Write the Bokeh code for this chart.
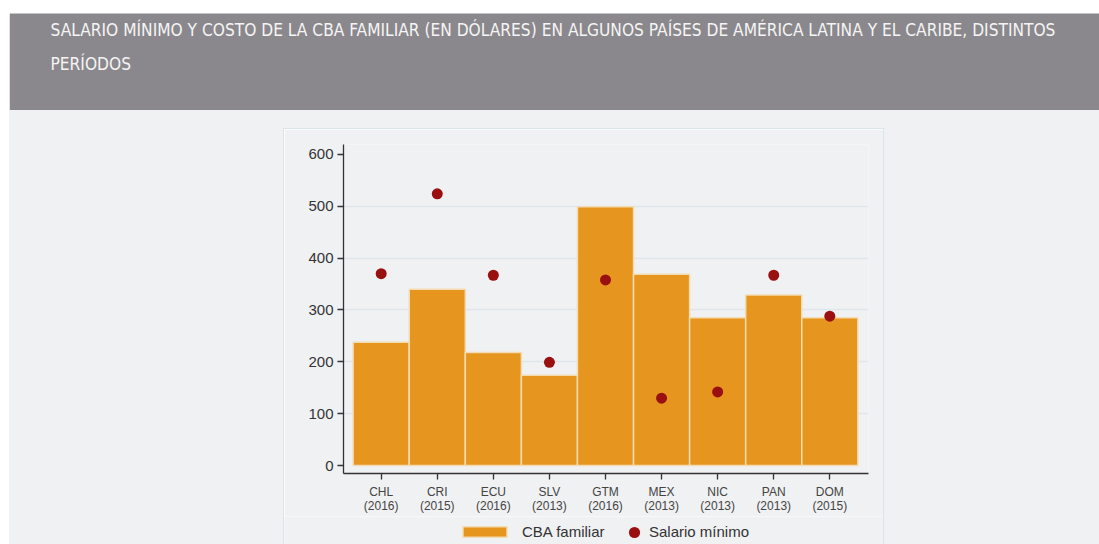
from bokeh.plotting import figure
from bokeh.layouts import column, row
from bokeh.models import (Range1d, FixedTicker, Label, Legend, LegendItem, ColumnDataSource,
                          Spacer)
from bokeh.embed import file_html
from bokeh.resources import INLINE

# ---- data ----
countries = ["CHL", "CRI", "ECU", "SLV", "GTM", "MEX", "NIC", "PAN", "DOM"]
years = ["2016", "2015", "2016", "2013", "2016", "2013", "2013", "2013", "2015"]
cba_familiar = [238, 340, 218, 174, 499, 369, 285, 329, 285]
salario_minimo = [370, 524, 367, 199, 358, 130, 142, 367, 288]
y_ticks = [0, 100, 200, 300, 400, 500, 600]
title_line1 = "SALARIO MÍNIMO Y COSTO DE LA CBA FAMILIAR (EN DÓLARES) EN ALGUNOS PAÍSES DE AMÉRICA LATINA Y EL CARIBE, DISTINTOS"
title_line2 = "PERÍODOS"
legend_labels = ["CBA familiar", "Salario mínimo"]

BG = "#f0f1f3"
PANEL_LINE = "#dbe4e7"
BAR = "#e6951f"
BAR_LINE = "#f4dcb2"
DOT = "#9a1010"
font = "Liberation Sans"


def block(w, h, color):
    return Spacer(width=w, height=h, styles={"background-color": color})


def bare(width, height, bg):
    return figure(width=width, height=height, output_backend="svg", toolbar_location=None,
                  x_axis_type=None, y_axis_type=None, min_border=0, frame_align=False,
                  x_range=Range1d(0, width), y_range=Range1d(height, 0),
                  outline_line_color=None, border_fill_color=bg, background_fill_color=bg)


idx = list(range(len(countries)))
src = ColumnDataSource(dict(x=idx, cba=cba_familiar, sal=salario_minimo))

# ---- header (page x 9..1099, y 0..110) ----
HW, HH = 1090, 110
hdr = bare(HW, HH, "white")
hdr.quad(left=[0], right=[HW], top=[13], bottom=[HH], fill_color="#8a888c", line_color=None)
hdr_font = "'Liberation Sans Narrow', 'DejaVu Sans Condensed', sans-serif"
for txt, yy in [(title_line1, 29), (title_line2, 63)]:
    hdr.add_layout(Label(x=41, y=yy, text=txt, text_baseline="middle", text_align="left",
                         text_color="#f5f5f5", text_font=hdr_font, text_font_size="17.2px"))

# ---- chart (page x 284..883, y 129..516) ----
PW = 599
CH = 387
p = figure(width=PW, height=CH, output_backend="svg", toolbar_location=None,
           x_range=Range1d(-0.672, 8.69), y_range=Range1d(-15.38, 619.23),
           min_border_left=59, min_border_right=15, min_border_top=15,
           min_border_bottom=42, background_fill_color=BG, border_fill_color=BG,
           outline_line_color=None, frame_align=False)

bars = p.vbar(x="x", top="cba", width=1.0, source=src, fill_color=BAR,
              line_color=BAR_LINE, line_width=1.5)
dots = p.scatter(x="x", y="sal", source=src, size=11, fill_color=DOT, line_color=None)

p.yaxis.ticker = FixedTicker(ticks=y_ticks)
p.yaxis.minor_tick_line_color = None
p.yaxis.major_tick_in = 0
p.yaxis.major_tick_out = 6
p.yaxis.major_label_standoff = 4
p.yaxis.major_label_text_font = font
p.yaxis.major_label_text_font_size = "15px"
p.yaxis.major_label_text_color = "#333333"
p.yaxis.axis_line_color = "#333333"
p.yaxis.axis_line_width = 1.3
p.yaxis.major_tick_line_color = "#333333"
p.yaxis.major_tick_line_width = 1.3

p.xaxis.ticker = FixedTicker(ticks=idx)
p.xaxis.major_label_overrides = {i: f"{c}\n({y})" for i, c, y in zip(idx, countries, years)}
p.xaxis.minor_tick_line_color = None
p.xaxis.major_tick_in = 0
p.xaxis.major_tick_out = 6
p.xaxis.major_label_standoff = 5
p.xaxis.major_label_text_font = font
p.xaxis.major_label_text_font_size = "12px"
p.xaxis.major_label_text_line_height = 1.05
p.xaxis.major_label_text_color = "#444444"
p.xaxis.axis_line_color = "#333333"
p.xaxis.axis_line_width = 1.3
p.xaxis.major_tick_line_color = "#333333"
p.xaxis.major_tick_line_width = 1.3

p.xgrid.grid_line_color = None
p.ygrid.ticker = FixedTicker(ticks=[100, 200, 300, 400, 500])
p.ygrid.grid_line_color = "#dde6ea"
p.ygrid.grid_line_width = 1.5

# ---- legend strip (page x 284..883, y 516..544) ----
LH = 28
leg = bare(PW, LH, BG)
leg.y_range = Range1d(0, LH)
proxy_bar = leg.vbar(x="x", top="cba", width=1.0, source=src, fill_color=BAR,
                     line_color=BAR_LINE, line_width=1.5, visible=False)
proxy_dot = leg.scatter(x="x", y="sal", source=src, size=11, fill_color=DOT,
                        line_color=None, visible=False)
common = dict(padding=0, margin=0, spacing=0, background_fill_alpha=0,
              border_line_alpha=0, label_text_font=font, label_text_font_size="15px",
              label_text_color="#333333", inactive_fill_alpha=0)
leg.add_layout(Legend(items=[LegendItem(label=legend_labels[0], renderers=[proxy_bar])],
                      location=(173, 3.5), glyph_width=55, glyph_height=13, label_height=18,
                      label_standoff=10, **common))
leg.add_layout(Legend(items=[LegendItem(label=legend_labels[1], renderers=[proxy_dot])],
                      location=(336, -1.7), glyph_width=28, glyph_height=28, label_height=28,
                      label_standoff=1, **common))

# ---- page assembly ----
BH = 544 - HH
panel = column(block(PW, 18, BG), block(PW, 1, PANEL_LINE), p, leg, spacing=0)
vline = lambda: column(block(1, 18, BG), block(1, BH - 18, PANEL_LINE), spacing=0)
body = row(block(274, BH, BG), vline(), panel, vline(), block(HW - 274 - 1 - PW - 1, BH, BG),
           spacing=0)
main = column(hdr, body, spacing=0)
page = row(block(9, 544, "white"), main, spacing=0)

open("out.html", "w").write(file_html(page, INLINE))
